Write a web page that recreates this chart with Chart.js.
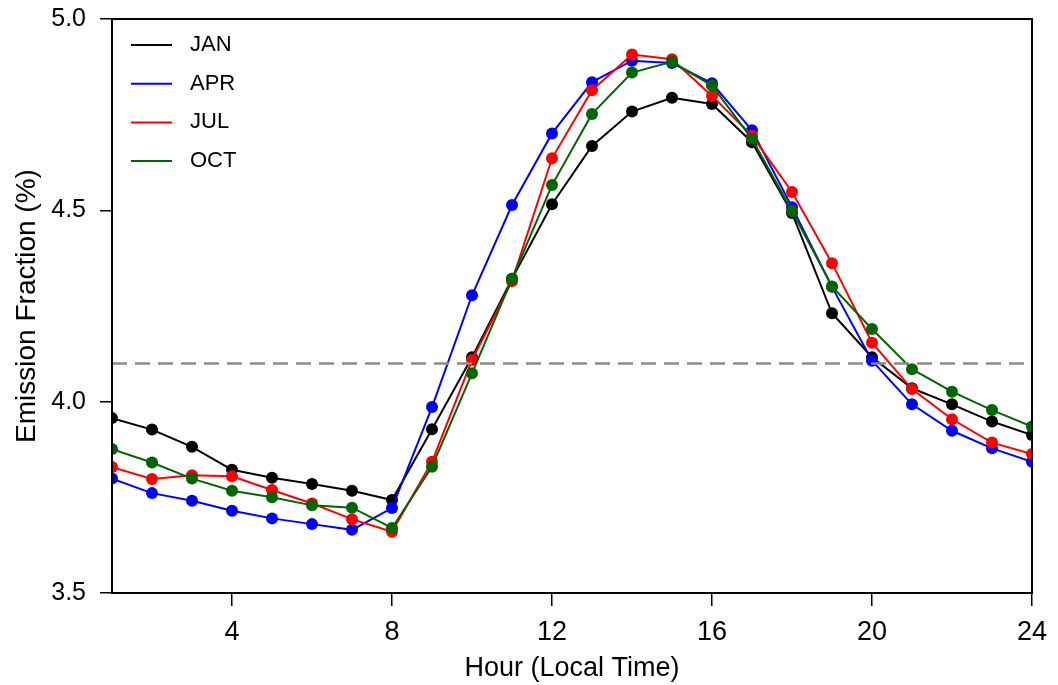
<!DOCTYPE html>
<html>
<head>
<meta charset="utf-8">
<script src="https://cdn.jsdelivr.net/npm/chart.js@4"></script>
<style>
    body { margin: 0; background: #fff; }
    #wrap { width: 1058px; height: 685px; }
</style>
</head>
<body>
<div id="wrap"><canvas id="chart" width="1058" height="685"></canvas></div>
<script>
// hourly emission fraction (%) by month
const hours = [1, 2, 3, 4, 5, 6, 7, 8, 9, 10, 11, 12, 13, 14, 15, 16, 17, 18, 19, 20, 21, 22, 23, 24];
const janValues = [3.957, 3.927, 3.882, 3.822, 3.801, 3.785, 3.767, 3.743, 3.928, 4.116, 4.321, 4.516, 4.668, 4.758, 4.794, 4.778, 4.678, 4.493, 4.231, 4.116, 4.035, 3.993, 3.948, 3.913];
const aprValues = [3.799, 3.761, 3.741, 3.715, 3.695, 3.680, 3.665, 3.722, 3.986, 4.278, 4.514, 4.701, 4.835, 4.891, 4.885, 4.832, 4.709, 4.508, 4.300, 4.107, 3.993, 3.924, 3.878, 3.843];
const julValues = [3.829, 3.798, 3.808, 3.805, 3.769, 3.734, 3.693, 3.660, 3.843, 4.109, 4.315, 4.636, 4.814, 4.907, 4.895, 4.799, 4.695, 4.548, 4.362, 4.154, 4.033, 3.954, 3.893, 3.863];
const octValues = [3.876, 3.841, 3.799, 3.767, 3.750, 3.729, 3.723, 3.670, 3.830, 4.074, 4.321, 4.566, 4.752, 4.860, 4.888, 4.826, 4.687, 4.498, 4.301, 4.190, 4.085, 4.026, 3.978, 3.935];
const seriesNames = ['JAN', 'APR', 'JUL', 'OCT'];
const seriesColors = ['#000000', '#0000ff', '#ff0000', '#006600'];
const refLevel = 4.1;
const xTicks = [4, 8, 12, 16, 20, 24];
const yTicks = [3.5, 4.0, 4.5, 5.0];

const FONT = 'Arial, "Liberation Sans", sans-serif';

function toPoints(vals) {
    return hours.map((h, i) => ({ x: h, y: vals[i] }));
}

const seriesValues = [janValues, aprValues, julValues, octValues];
const datasets = seriesValues.map((vals, i) => ({
    label: seriesNames[i],
    data: toPoints(vals),
    borderColor: seriesColors[i],
    backgroundColor: seriesColors[i],
    borderWidth: 2,
    pointRadius: 6,
    pointBorderWidth: 0,
    tension: 0,
    order: 4 - i
}));

// dashed reference line across the whole hour range
datasets.push({
    label: 'ref',
    data: [{ x: hours[0], y: refLevel }, { x: hours[hours.length - 1], y: refLevel }],
    borderColor: '#8c8c8c',
    borderWidth: 2.5,
    borderDash: [15, 8],
    pointRadius: 0,
    order: 0
});

// keep markers inside the plot box (edge points get cut in half)
const clipPlugin = {
    id: 'clipBox',
    beforeDatasetsDraw(chart) {
        const { ctx, chartArea: a } = chart;
        ctx.save();
        ctx.beginPath();
        ctx.rect(a.left, a.top, a.right - a.left, a.bottom - a.top);
        ctx.clip();
    },
    afterDatasetsDraw(chart) {
        chart.ctx.restore();
    }
};

// frame round the plot + legend inside the top-left corner
const framePlugin = {
    id: 'frame',
    afterDraw(chart) {
        const { ctx, chartArea: a } = chart;
        ctx.save();
        ctx.strokeStyle = '#000';
        ctx.lineWidth = 2;
        ctx.strokeRect(a.left, a.top, a.right - a.left, a.bottom - a.top);

        ctx.font = '22px ' + FONT;
        ctx.textBaseline = 'middle';
        ctx.textAlign = 'left';
        seriesNames.forEach((name, i) => {
            const y = a.top + 26 + i * 38.7;
            ctx.strokeStyle = seriesColors[i];
            ctx.lineWidth = 2;
            ctx.beginPath();
            ctx.moveTo(a.left + 19, y);
            ctx.lineTo(a.left + 60, y);
            ctx.stroke();
            ctx.fillStyle = '#000';
            ctx.fillText(name, a.left + 78, y);
        });
        ctx.restore();
    }
};

new Chart(document.getElementById('chart'), {
    type: 'line',
    data: { datasets: datasets },
    options: {
        responsive: false,
        animation: false,
        layout: { padding: { top: 19, right: 26, left: 0, bottom: 0 } },
        plugins: { legend: { display: false }, tooltip: { enabled: false } },
        scales: {
            x: {
                type: 'linear',
                min: 1,
                max: 24,
                afterFit(scale) { scale.height = 92; scale.paddingLeft = 0; scale.paddingRight = 0; },
                afterBuildTicks(scale) { scale.ticks = xTicks.map(v => ({ value: v })); },
                grid: { drawOnChartArea: false, drawTicks: true, tickLength: 13, color: '#000', lineWidth: 1.5 },
                border: { display: true, color: '#000', width: 2 },
                ticks: { color: '#000', padding: 10, maxRotation: 0, font: { family: FONT, size: 27 } },
                title: { display: true, text: 'Hour (Local Time)', color: '#000', padding: { top: 0, bottom: 0 }, font: { family: FONT, size: 27 } }
            },
            y: {
                min: 3.5,
                max: 5.0,
                afterFit(scale) { scale.width = 112; scale.paddingTop = 0; scale.paddingBottom = 0; },
                afterBuildTicks(scale) { scale.ticks = yTicks.map(v => ({ value: v })); },
                grid: { drawOnChartArea: false, drawTicks: true, tickLength: 12, color: '#000', lineWidth: 1.5 },
                border: { display: true, color: '#000', width: 2 },
                ticks: { color: '#000', padding: 14, font: { family: FONT, size: 25 }, callback: v => v.toFixed(1) },
                title: { display: true, text: 'Emission Fraction (%)', color: '#000', padding: { top: 10, bottom: 0 }, font: { family: FONT, size: 28 } }
            }
        }
    },
    plugins: [clipPlugin, framePlugin]
});
</script>
</body>
</html>
